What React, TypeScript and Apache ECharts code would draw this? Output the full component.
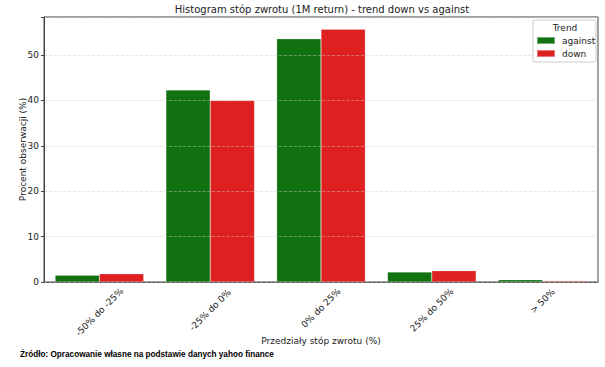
import React, { useEffect, useRef } from "react";
import * as echarts from "echarts";

const categories = ["-50% do -25%", "-25% do 0%", "0% do 25%", "25% do 50%", "> 50%"];
const againstValues = [1.5, 42.3, 53.6, 2.2, 0.5];
const downValues = [1.8, 40.0, 55.7, 2.5, 0.2];
const seriesNames = ["against", "down"];
const yTicks = [0, 10, 20, 30, 40, 50];

const GREEN = "#127212";
const RED = "#de2020";
const FONT = "DejaVu Sans";

// desired vertical shift (px, down positive) of each rotated label's centre relative to the base margin
const labelShift = [3, 1, -1, 1, -8];

function padFor(d: number): number[] {
  const a = -d / Math.SQRT2;
  const p = Math.abs(2 * a);
  return a >= 0 ? [0, 0, p, p] : [p, p, 0, 0];
}

export default function App() {
  const ref = useRef<HTMLDivElement>(null);
  useEffect(() => {
    if (!ref.current) return;
    const chart = echarts.init(ref.current, undefined, { renderer: "svg" });
    const rich: Record<string, any> = {};
    labelShift.forEach((d, i) => {
      rich["p" + i] = { fontFamily: FONT, fontSize: 9, color: "#222", padding: padFor(d) };
    });
    chart.setOption({
      animation: false,
      backgroundColor: "#ffffff",
      title: {
        text: "Histogram stóp zwrotu (1M return) - trend down vs against",
        left: 322,
        textAlign: "center",
        top: 4,
        padding: 0,
        textStyle: { fontFamily: FONT, fontSize: 10, fontWeight: "normal", color: "#222" },
      },
      grid: {
        left: 44,
        right: 7,
        top: 17,
        bottom: 85,
        show: true,
        borderColor: "#444",
        borderWidth: 1,
        backgroundColor: "transparent",
      },
      legend: {
        orient: "vertical",
        left: 536,
        top: 36,
        padding: 0,
        itemWidth: 18,
        itemHeight: 7,
        itemGap: 4,
        data: seriesNames,
        icon: "rect",
        z: 10,
        textStyle: { fontFamily: FONT, fontSize: 9, color: "#222", padding: [0, 0, 0, 2] },
      },
      graphic: [
        {
          type: "rect",
          shape: { x: 533, y: 20, width: 63, height: 42, r: 2 },
          style: { fill: "#ffffff", stroke: "#cccccc", lineWidth: 1 },
          z: 5,
        },
        {
          type: "text",
          x: 565,
          y: 23,
          style: { text: "Trend", fontFamily: FONT, fontSize: 9, fill: "#222", textAlign: "center" },
          z: 10,
        },
        {
          type: "text",
          x: 321,
          y: 336,
          style: { text: "Przedziały stóp zwrotu (%)", fontFamily: FONT, fontSize: 9, fill: "#222", textAlign: "center" },
        },
        {
          type: "text",
          x: 20,
          y: 350,
          style: { text: "Źródło: Opracowanie własne na podstawie danych yahoo finance", fontFamily: "Liberation Sans Narrow, Liberation Sans", fontSize: 8.2, fontWeight: "bold", fill: "#000" },
        },
      ],
      xAxis: {
        type: "category",
        data: categories,
        axisLine: { lineStyle: { color: "#444" } },
        axisTick: { alignWithLabel: true, lineStyle: { color: "#444" }, length: 3 },
        axisLabel: {
          rotate: 45,
          align: "center",
          verticalAlign: "middle",
          fontFamily: FONT,
          fontSize: 9,
          color: "#222",
          margin: 27,
          formatter: (v: string, i: number) => `{p${i}|${v}}`,
          rich,
        },
      },
      yAxis: {
        type: "value",
        min: 0,
        max: 58.4,
        interval: 10,
        z: 3,
        name: "Procent obserwacji (%)",
        nameLocation: "middle",
        nameGap: 17,
        nameMoveOverlap: false,
        nameTextStyle: { fontFamily: FONT, fontSize: 9, color: "#222" },
        axisLine: { show: true, lineStyle: { color: "#444" } },
        axisTick: { show: true, lineStyle: { color: "#444" }, length: 3 },
        axisLabel: {
          fontFamily: FONT,
          fontSize: 9,
          color: "#222",
          margin: 5,
          formatter: (v: number) => (yTicks.includes(v) ? String(v) : ""),
        },
        splitLine: { show: true, lineStyle: { color: "rgba(200,200,200,0.6)", type: "dashed", width: 0.8 } },
      },
      series: [
        {
          name: seriesNames[0],
          type: "bar",
          data: againstValues,
          barWidth: "40%",
          barGap: "0%",
          itemStyle: { color: GREEN, borderColor: "rgba(255,255,255,0.4)", borderWidth: 0.5 },
        },
        {
          name: seriesNames[1],
          type: "bar",
          data: downValues,
          barWidth: "40%",
          barGap: "0%",
          itemStyle: { color: RED, borderColor: "rgba(255,255,255,0.4)", borderWidth: 0.5 },
        },
      ],
    });
    return () => chart.dispose();
  }, []);
  return <div ref={ref} style={{ position: "absolute", left: 0, top: 0, width: 605, height: 367 }} />;
}
